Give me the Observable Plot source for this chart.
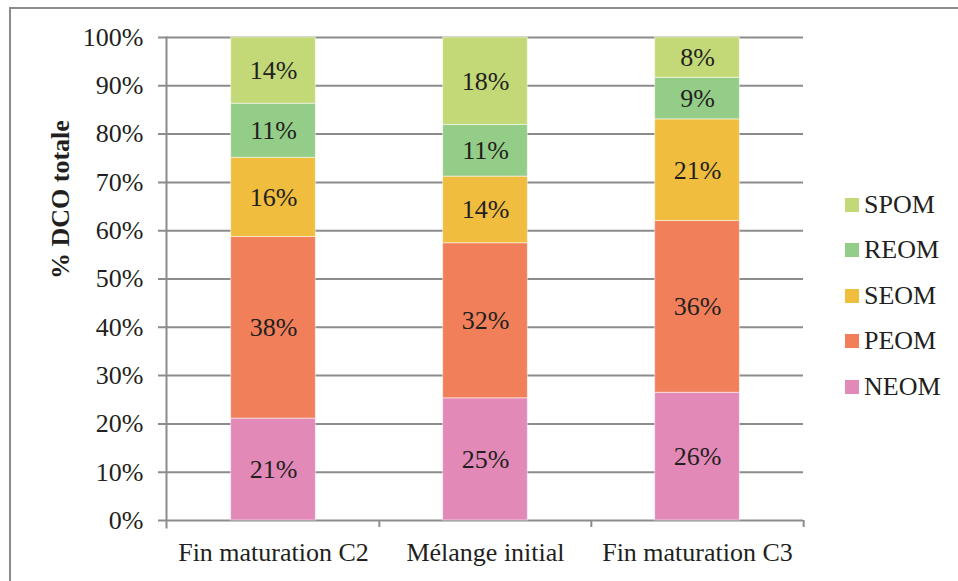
<!DOCTYPE html>
<html>
<head>
<meta charset="utf-8">
<script src="https://cdn.jsdelivr.net/npm/d3@7"></script>
<script src="https://cdn.jsdelivr.net/npm/@observablehq/plot@0.6"></script>
<style>
  html, body { margin: 0; padding: 0; background: #fff; }
  #wrap { position: relative; width: 958px; height: 581px; overflow: hidden; font-family: "Liberation Serif", "Tinos", "Times New Roman", "DejaVu Serif", serif; }
  #border { position: absolute; left: 9px; top: 7px; width: 1000px; height: 1000px; border: 2px solid #8c8c8c; box-sizing: border-box; }
  #legend { position: absolute; left: 845px; top: 182px; }
  .item { display: flex; align-items: center; height: 45.5px; font-size: 26px; color: #231f20; }
  .sw { width: 14px; height: 14px; margin-right: 5px; }
  svg { position: absolute; left: 0; top: 0; }
  svg text { font-family: "Liberation Serif", "Tinos", "Times New Roman", "DejaVu Serif", serif; }
</style>
</head>
<body>
<div id="wrap"><div id="border"></div></div>
<script>
const categories = ["Fin maturation C2", "Mélange initial", "Fin maturation C3"];
const series = ["NEOM", "PEOM", "SEOM", "REOM", "SPOM"];
const colors = ["#e289b8", "#f17f59", "#f0bd3e", "#94cd88", "#c3d977"];
const NEOM = [21.1, 25.3, 26.45];
const PEOM = [37.6, 32.1, 35.55];
const SEOM = [16.4, 13.8, 21.05];
const REOM = [11.2, 10.7, 8.6];
const SPOM = [13.7, 18.1, 8.35];
const yTicks = [0, 10, 20, 30, 40, 50, 60, 70, 80, 90, 100];

const seriesValues = {NEOM, PEOM, SEOM, REOM, SPOM};
const data = [];
series.forEach(s => categories.forEach((c, i) => data.push({cat: c, series: s, value: seriesValues[s][i]})));

const W = 958, H = 581, mL = 166, mR = 155, mT = 37, mB = 61;
const bw = (W - mL - mR) / categories.length;
const barW = 85;
const inset = (bw - barW) / 2;
const grid = "#8c8c8c";
const font = "'Liberation Serif', 'Tinos', 'Times New Roman', 'DejaVu Serif', serif";

const chart = Plot.plot({
  width: W, height: H,
  marginLeft: mL, marginRight: mR, marginTop: mT, marginBottom: mB,
  style: {fontFamily: font, fontSize: "26px", color: "#231f20", background: "transparent"},
  x: {type: "band", domain: categories, padding: 0, axis: null},
  y: {domain: [0, 100], axis: null},
  color: {domain: series, range: colors},
  marks: [
    Plot.ruleY(yTicks, {y: d => d, stroke: grid, strokeWidth: 2, insetLeft: -8}),
    Plot.frame({anchor: "left", stroke: grid, strokeWidth: 2, insetBottom: -7}),
    Plot.ruleX(categories.slice(1), {x: d => d, dx: -bw / 2, y1: 0, y2: 0, insetBottom: -7, stroke: grid, strokeWidth: 2}),
    Plot.ruleX(categories.slice(-1), {x: d => d, dx: bw / 2, y1: 0, y2: 0, insetBottom: -7, stroke: grid, strokeWidth: 2}),
    Plot.barY(data, {x: "cat", y: "value", fill: "series", insetLeft: inset, insetRight: inset, stroke: "white", strokeOpacity: 0.5, strokeWidth: 1}),
    Plot.text(data, Plot.stackY({x: "cat", y: "value", z: "series", text: d => Math.round(d.value) + "%", fill: "#231f20", fontSize: 26})),
    Plot.axisY({ticks: yTicks, tickFormat: d => d + "%", tickSize: 0, tickPadding: 23, fontSize: 26, label: null}),
    Plot.axisX({tickSize: 0, tickPadding: 22, fontSize: 26, label: null}),
    Plot.text(["% DCO totale"], {frameAnchor: "left", dx: -106, rotate: -90, fontWeight: "bold", fontSize: 26, fill: "#231f20"})
  ]
});
document.getElementById("wrap").appendChild(chart);

const legend = document.createElement("div");
legend.id = "legend";
series.slice().reverse().forEach(s => {
  const it = document.createElement("div");
  it.className = "item";
  const sw = document.createElement("div");
  sw.className = "sw";
  sw.style.background = colors[series.indexOf(s)];
  it.appendChild(sw);
  it.appendChild(document.createTextNode(s));
  legend.appendChild(it);
});
document.getElementById("wrap").appendChild(legend);
</script>
</body>
</html>
